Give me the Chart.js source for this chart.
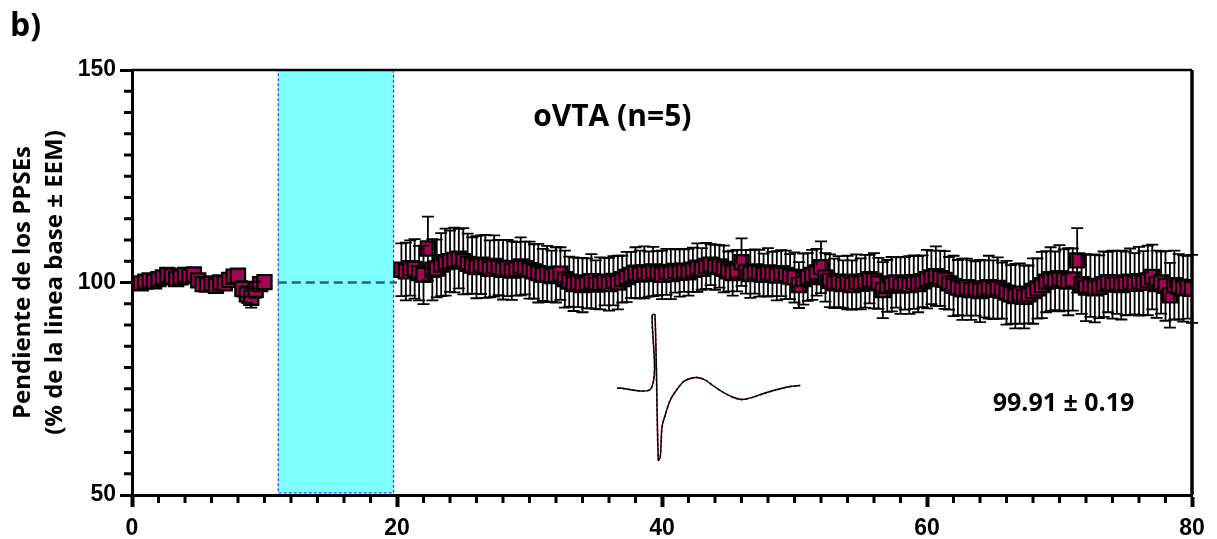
<!DOCTYPE html>
<html><head><meta charset="utf-8">
<script src="https://cdn.jsdelivr.net/npm/chart.js@4/dist/chart.umd.min.js"></script>
<style>html,body{margin:0;padding:0;background:#fff;}#wrap{width:1217px;height:539px;position:relative;}</style>
</head><body><div id="wrap"><canvas id="c" width="1217" height="539"></canvas></div>
<script>
// ---------- data ----------
const BASE_START = 2/3, STEP = 1/3;            // min
const baseMean = [99.8,100.2,100.5,100.3,100.8,101.2,101.8,101.5,100.8,101.2,101.8,101.5,101.9,100.5,99.6,99.5,99.8,99.2,100.0,99.8,100.6,101.4,101.6,98.5,97.2,96.4,98.3,99.6,100.1];
const baseSem  = [1.0,1.1,0.9,1.2,1.0,1.1,1.3,1.0,1.2,0.9,1.1,1.2,1.0,1.1,1.3,1.0,1.2,1.1,0.9,1.2,1.0,1.3,1.2,1.8,2.0,2.3,1.9,1.4,1.2];
const POST_START = 20 + 1/3;
const postMean = [
103.0,102.6,103.4, 103.2,102.2,101.8, 108.0,103.0,103.3, 104.2,104.8,105.0, 105.3,105.6,105.0,
104.4,104.0,103.6, 104.2,103.8,103.2, 103.9,103.5,103.0, 103.4,102.8,103.2, 103.8,103.4,102.9,
102.6,102.2,101.8, 102.0,101.5,101.8, 102.1,100.8,100.2, 99.6,100.0,99.4, 99.8,100.3,99.5,
99.8,100.2,99.6, 100.4,100.0,100.8, 101.3,101.8,102.3, 101.9,102.4,102.0, 102.6,102.2,101.8,
102.5,102.0,102.7, 102.3,102.8,102.4, 103.0,103.5,103.2, 103.9,104.2,103.6, 103.8,103.2,102.6,
102.2,102.8,104.8, 102.5,102.0,102.6, 102.2,101.8,102.4, 102.0,101.6,102.2, 101.8,101.4,101.2,
99.4,100.8,101.3, 101.8,102.4,103.6, 101.2,100.4,99.8, 100.2,99.6,100.0, 99.4,100.2,99.7,
100.3,100.8,100.4, 99.8,98.2,99.2, 99.6,100.0,99.3, 99.8,99.4,100.1, 99.6,100.3,100.8,
101.2,101.5,101.0, 100.6,99.8,99.2, 98.8,98.4,98.9, 98.2,98.6,98.0, 98.5,98.9,98.3,
98.7,98.1,97.6, 97.2,96.8,97.4, 96.6,97.2,98.0, 98.6,99.4,100.2, 100.8,100.4,101.0,
100.6,100.2,100.7, 105.2,99.6,98.8, 99.2,98.6,99.0, 99.6,100.1,99.5, 100.0,99.4,99.8,
100.2,99.7,100.3, 99.9,100.5,101.3, 99.6,100.0,99.2, 97.0,99.4,99.0, 98.6,98.9,98.5];
const postSem = [
6.2,6.8,6.5, 7.0,6.4,6.9, 7.5,7.2,6.8, 7.4,7.9,7.2, 7.6,7.0,7.8,
7.1,6.6,7.3, 6.9,7.4,6.7, 7.2,6.5,7.0, 6.6,6.9,6.3, 6.8,6.2,6.7,
6.4,6.9,6.1, 6.6,6.0,6.5, 6.2,6.7,5.9, 6.3,5.8,6.4, 5.9,6.4,5.7,
6.1,5.6,6.2, 5.8,6.3,5.5, 5.9,5.4,6.0, 5.6,6.1,5.3, 5.8,5.2,5.7,
5.4,5.9,5.1, 5.6,5.0,5.5, 5.2,5.7,4.9, 5.4,4.8,5.3, 5.0,5.5,4.7,
5.3,4.9,5.6, 5.1,5.6,5.2, 5.5,5.0,5.7, 5.2,5.8,5.4, 5.7,5.3,5.9,
5.4,6.0,5.6, 5.9,5.5,6.1, 5.7,6.2,5.8, 6.0,5.6,6.3, 5.8,6.4,6.0,
6.2,5.7,6.5, 6.0,6.6,6.1, 6.4,5.9,6.7, 6.2,6.8,6.3, 6.6,6.1,6.9,
6.3,7.0,6.5, 6.8,6.2,7.1, 6.5,7.2,6.7, 7.0,6.4,7.3, 6.7,7.4,6.9,
7.2,6.6,7.5, 6.9,7.6,7.1, 7.4,6.8,7.7, 7.1,7.8,7.2, 7.5,6.9,7.8,
7.2,7.9,7.3, 7.6,7.0,7.9, 7.3,8.0,7.4, 7.7,7.1,8.0, 7.4,8.1,7.5,
7.8,7.2,8.1, 7.5,8.2,7.6, 7.9,7.3,8.2, 7.6,8.1,7.7, 7.8,7.4,8.0];
// stimulation window (min) and baseline reference
const stimWindow = [11.04, 19.74];
const stimYRange = [50.5, 150];
const refLineX = [11, 20];
const refLineY = 100;
// inset fEPSP trace (ms, mV)
const traceT = [-3.9,-0.1,0,0.3,0.67,0.89,1.08,1.44,2.0,2.74,3.48,4.22,4.97,5.89,6.81,7.92,9.03,9.97,11.08,12.37,13.86,15.33,16.44];
const traceV = [0,0,1.46,1.46,-1.44,-1.38,-0.78,-0.54,-0.24,-0.03,0.13,0.19,0.21,0.16,0.04,-0.09,-0.19,-0.23,-0.19,-0.11,-0.03,0.03,0.05];
// axis ticks
const xMajor = [0,20,40,60,80];
const yMajor = [50,100,150];
const titleText = 'oVTA (n=5)';
const statText = '99.91 \u00B1 0.19';
const panelText = 'b)';
const yTitle = ['Pendiente de los PPSEs','(% de la linea base \u00B1 EEM)'];

// ---------- build ----------
const basePts = baseMean.map((v,i)=>({x: BASE_START + i*STEP, y: v}));
const postPts = postMean.map((v,i)=>({x: POST_START + i*STEP, y: v}));
const tracePts = traceT.map((t,i)=>({x:t, y:traceV[i]}));
const FILL = '#a00552';

const errPlugin = {
  id:'err',
  afterDatasetsDraw(chart){
    const ctx = chart.ctx, ys = chart.scales.y;
    ctx.save();
    ctx.strokeStyle = '#000'; ctx.lineWidth = 1.8;
    chart.data.datasets.forEach((ds,di)=>{
      if(!ds.errors) return;
      const meta = chart.getDatasetMeta(di);
      meta.data.forEach((el,i)=>{
        const v = ds.data[i].y, e = ds.errors[i];
        const yt = ys.getPixelForValue(v+e), yb = ys.getPixelForValue(v-e);
        const x = el.x, y = el.y, h = 7, cw = 6;
        ctx.beginPath();
        if (y - yt > h) { ctx.moveTo(x, y-h); ctx.lineTo(x, yt); ctx.moveTo(x-cw, yt); ctx.lineTo(x+cw, yt); }
        if (yb - y > h) { ctx.moveTo(x, y+h); ctx.lineTo(x, yb); ctx.moveTo(x-cw, yb); ctx.lineTo(x+cw, yb); }
        ctx.stroke();
      });
    });
    ctx.restore();
  }
};

const decoPlugin = {
  id:'deco',
  beforeDatasetsDraw(chart){
    const ctx = chart.ctx, xs = chart.scales.x, ys = chart.scales.y;
    const x0 = xs.getPixelForValue(stimWindow[0]), x1 = xs.getPixelForValue(stimWindow[1]);
    const y0 = ys.getPixelForValue(stimYRange[1]), y1 = ys.getPixelForValue(stimYRange[0]);
    ctx.save();
    ctx.fillStyle = '#80ffff';
    ctx.fillRect(x0, y0, x1-x0, y1-y0);
    ctx.strokeStyle = '#2a4cff'; ctx.lineWidth = 1.3; ctx.setLineDash([3,2]);
    ctx.strokeRect(x0, y0, x1-x0, y1-y0);
    ctx.restore();
  },
  afterDraw(chart){
    const ctx = chart.ctx, xs = chart.scales.x, ys = chart.scales.y, a = chart.chartArea;
    ctx.save();
    ctx.strokeStyle = '#000';
    // minor ticks
    ctx.lineWidth = 3;
    ctx.beginPath();
    for (let v = 55; v < 150; v += 5) {
      if (v % 50 === 0) continue;
      const y = ys.getPixelForValue(v);
      ctx.moveTo(a.left - 8, y); ctx.lineTo(a.left, y);
    }
    for (let v = 2; v < 80; v += 2) {
      if (v % 20 === 0) continue;
      const x = xs.getPixelForValue(v);
      ctx.moveTo(x, a.bottom); ctx.lineTo(x, a.bottom + 8);
    }
    ctx.stroke();
    // frame top / right
    ctx.lineWidth = 2.5;
    ctx.beginPath(); ctx.moveTo(a.left, a.top); ctx.lineTo(a.right, a.top); ctx.stroke();
    ctx.lineWidth = 3.5;
    ctx.beginPath(); ctx.moveTo(a.right, a.top); ctx.lineTo(a.right, a.bottom); ctx.stroke();
    // texts
    ctx.fillStyle = '#000';
    ctx.textBaseline = 'middle'; ctx.textAlign = 'center';
    ctx.font = 'bold 30px "Open Sans"';
    ctx.fillText(titleText, xs.getPixelForValue(36.25), ys.getPixelForValue(138.9));
    ctx.font = 'bold 25px "Open Sans"';
    ctx.fillText(statText, xs.getPixelForValue(70.3), ys.getPixelForValue(71.4));
    ctx.textAlign = 'left';
    ctx.font = 'bold 32px "Open Sans"';
    ctx.fillText(panelText, 10, 27);
    ctx.restore();
  }
};

new Chart(document.getElementById('c'), {
  type: 'scatter',
  data: { datasets: [
    { data: postPts, errors: postSem, pointStyle:'rect', pointRadius:10, pointHoverRadius:10,
      backgroundColor: FILL, borderColor:'#000', borderWidth:2.2, showLine:false },
    { data: basePts, errors: baseSem, pointStyle:'rect', pointRadius:10, pointHoverRadius:10,
      backgroundColor: FILL, borderColor:'#000', borderWidth:2.2, showLine:false },
    { data: refLineX.map(x=>({x, y: refLineY})), showLine:true, pointRadius:0,
      borderColor:'#1d6a6a', borderWidth:2.5, borderDash:[9,5] },
    { data: tracePts, xAxisID:'x2', yAxisID:'y2', showLine:true, pointRadius:0,
      borderColor:'#000', borderWidth:1.4, tension:0.3 },
    { data: tracePts, xAxisID:'x2', yAxisID:'y2', showLine:true, pointRadius:0,
      borderColor:'#d0206a', borderWidth:1.8, borderDash:[3,2], tension:0.3 }
  ]},
  options: {
    responsive:false, animation:false, devicePixelRatio:1,
    layout:{ padding:{ top:70, right:25, left:0, bottom:0 } },
    plugins:{ legend:{display:false}, tooltip:{enabled:false} },
    scales:{
      x:{ type:'linear', min:0, max:80,
        afterBuildTicks: s => { s.ticks = xMajor.map(v=>({value:v})); },
        afterFit: s => { s.height = 44; },
        ticks:{ color:'#000', font:{family:'"Liberation Sans"', size:23, weight:'bold'}, padding:8, maxRotation:0 },
        grid:{ drawOnChartArea:false, drawTicks:true, tickLength:12, tickWidth:4, tickColor:'#000' },
        border:{ display:true, width:3, color:'#000' } },
      y:{ type:'linear', min:50, max:150,
        afterBuildTicks: s => { s.ticks = yMajor.map(v=>({value:v})); },
        afterFit: s => { s.width = 132; },
        ticks:{ color:'#000', font:{family:'"Liberation Sans"', size:23, weight:'bold'}, padding:4 },
        grid:{ drawOnChartArea:false, drawTicks:true, tickLength:12, tickWidth:3, tickColor:'#000' },
        border:{ display:true, width:3, color:'#000' },
        title:{ display:true, text: yTitle, color:'#000',
          font:{family:'"Open Sans"', size:24, weight:'bold', lineHeight:1.35}, padding:{top:7,bottom:0} } },
      x2:{ type:'linear', display:false, min:-57.81, max:59.97 },
      y2:{ type:'linear', display:false, min:-2.14, max:6.36 }
    }
  },
  plugins:[decoPlugin, errPlugin]
});
</script></body></html>
